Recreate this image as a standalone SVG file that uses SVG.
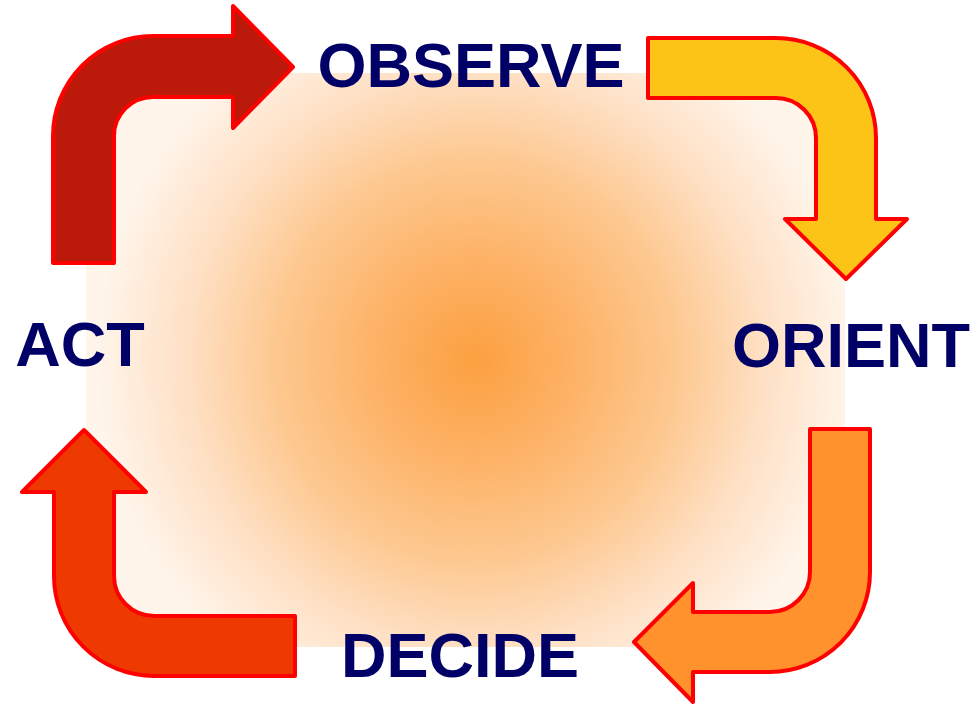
<svg xmlns="http://www.w3.org/2000/svg" width="975" height="705" viewBox="0 0 975 705">
  <defs>
    <radialGradient id="bg" gradientUnits="userSpaceOnUse" cx="475" cy="360" r="400">
      <stop offset="0" stop-color="#FCA040"/>
      <stop offset="0.25" stop-color="#FDB266"/>
      <stop offset="0.5" stop-color="#FDC890"/>
      <stop offset="0.72" stop-color="#FEE0C4"/>
      <stop offset="0.95" stop-color="#FFF5EB"/>
      <stop offset="1" stop-color="#FFF5EB"/>
    </radialGradient>
  </defs>
  <style>
    .arrow { stroke: #FF0000; stroke-width: 4; stroke-linejoin: round; }
    .label { font-family: "Liberation Sans", Arial, sans-serif; font-weight: bold; font-size: 63px; fill: #000066; text-anchor: middle; }
  </style>
  <rect x="0" y="0" width="975" height="705" fill="#FFFFFF"/>
  <rect id="backdrop" x="86" y="73" width="759" height="574" fill="url(#bg)"/>
  <g id="connectors">
    <path id="act-observe" class="arrow" fill="#BB1A0B" d="M53,263 L53,136 A100,100 0 0 1 153,36 L233,36 L233,6 L293,67 L233,128 L233,97 L153,97 A39,39 0 0 0 114,136 L114,263 Z"/>
    <path id="observe-orient" class="arrow" fill="#FDC418" d="M648,38 L776,38 A100,100 0 0 1 876,138 L876,219 L907,219 L846,279 L785,219 L816,219 L816,138 A40,40 0 0 0 776,98 L648,98 Z"/>
    <path id="orient-decide" class="arrow" fill="#FF922D" d="M810,429 L870,429 L870,572 A100,100 0 0 1 770,672 L693,672 L693,702 L634,642 L693,583 L693,612 L770,612 A40,40 0 0 0 810,572 Z"/>
    <path id="decide-act" class="arrow" fill="#EE3A00" d="M295,616 L154,616 A40,40 0 0 1 114,576 L114,492 L146,492 L84,430 L22,492 L54,492 L54,576 A100,100 0 0 0 154,676 L295,676 Z"/>
  </g>
  <g id="observe"><text class="label" x="471" y="87">OBSERVE</text></g>
  <g id="orient"><text class="label" x="851" y="367">ORIENT</text></g>
  <g id="decide"><text class="label" x="460" y="677">DECIDE</text></g>
  <g id="act"><text class="label" x="80" y="366">ACT</text></g>
</svg>
